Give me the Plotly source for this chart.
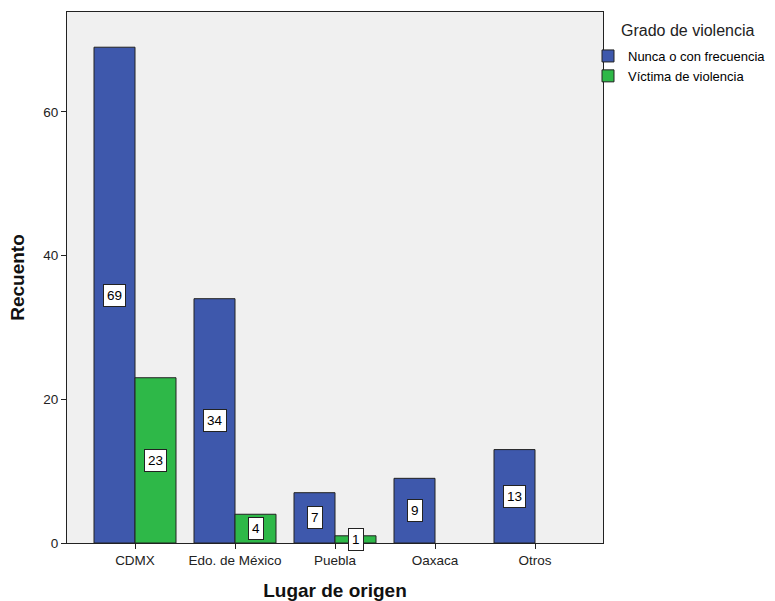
import plotly.graph_objects as go

categories = ["CDMX", "Edo. de México", "Puebla", "Oaxaca", "Otros"]
series_names = ["Nunca o con frecuencia", "Víctima de violencia"]
nunca = [69, 34, 7, 9, 13]
victima = [23, 4, 1, None, None]
colors = ["#3E58AC", "#2EB848"]
y_ticks = [0, 20, 40, 60]
legend_title = "Grado de violencia"

FONT = "Liberation Sans, Arial, sans-serif"

fig = go.Figure()
for name, vals, col in zip(series_names, [nunca, victima], colors):
    fig.add_trace(go.Bar(
        x=categories, y=vals, name=name,
        marker=dict(color=col, line=dict(color="#222222", width=1)),
    ))

# value labels in white boxes at the middle of each bar
for vals, shift in [(nunca, -20.5), (victima, 20.5)]:
    for c, v in zip(categories, vals):
        if v is None:
            continue
        fig.add_annotation(
            x=c, y=v / 2, xref="x", yref="y", xshift=shift,
            text=str(v), showarrow=False,
            font=dict(family=FONT, size=13.5, color="#000"),
            bgcolor="white", bordercolor="#222222", borderwidth=1, borderpad=3,
        )

# legend title
fig.add_annotation(
    x=(619 - 67) / 536, y=(543 - 30) / 531, xref="paper", yref="paper",
    xanchor="left", yanchor="middle", showarrow=False,
    text=legend_title, font=dict(family=FONT, size=16, color="#222"),
)

fig.update_layout(
    width=775, height=601,
    margin=dict(l=67, r=172, t=12, b=58, autoexpand=False),
    paper_bgcolor="white", plot_bgcolor="#F0F0F0",
    barmode="group", bargap=0.18, bargroupgap=0,
    font=dict(family=FONT, size=13, color="#000"),
    showlegend=True,
    legend=dict(
        x=(588 - 67) / 536, xanchor="left", y=(543 - 41) / 531, yanchor="top",
        font=dict(size=13, color="#000"),
        bgcolor="rgba(0,0,0,0)", itemwidth=30, tracegroupgap=0,
    ),
    xaxis=dict(
        type="category", range=[-0.68, 4.68], automargin=False,
        showgrid=False, showline=True, linecolor="#222", linewidth=1, mirror=True,
        ticks="outside", ticklen=5, tickcolor="#222",
        tickfont=dict(size=13.5, color="#222"),
        title=dict(text="<b>Lugar de origen</b>", font=dict(size=19, color="#111"), standoff=16),
    ),
    yaxis=dict(
        range=[0, 73.9], tickvals=y_ticks, automargin=False,
        showgrid=False, zeroline=False, showline=True, linecolor="#222", linewidth=1, mirror=True,
        ticks="outside", ticklen=5, tickcolor="#222",
        tickfont=dict(size=13.5, color="#222"),
        title=dict(text="<b>Recuento</b>", font=dict(size=19, color="#111"), standoff=13),
    ),
)

fig.write_html("out.html", config={"displayModeBar": False},
               post_script="document.body.style.margin='0';")
